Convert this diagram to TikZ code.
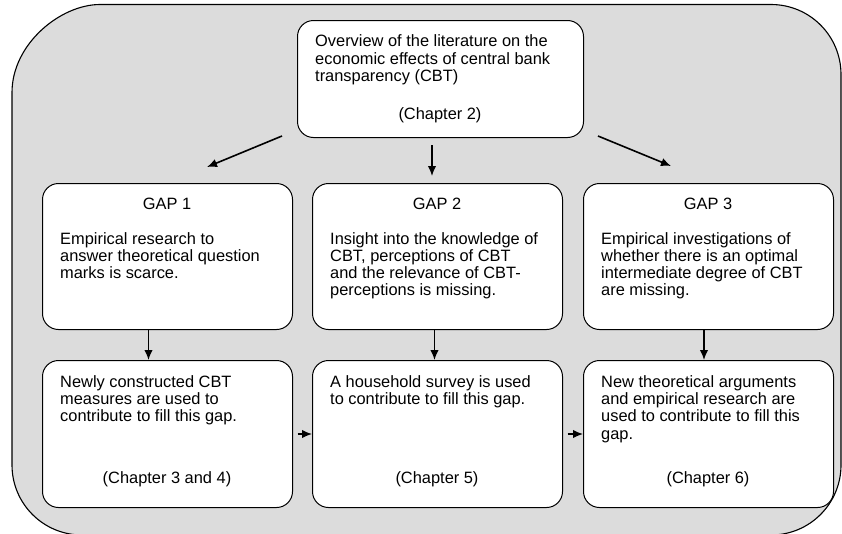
\documentclass[tikz,border=0pt]{standalone}
\usepackage{fontspec}
\setmainfont{Liberation Sans}
\usetikzlibrary{arrows.meta}
\definecolor{bgray}{RGB}{220,220,220}
\begin{document}
\begin{tikzpicture}[x=1pt,y=-1pt,
  box/.style={draw=black, line width=1pt, fill=white, rounded corners=16pt, inner sep=0pt, anchor=north west},
  txt/.style={inner sep=0pt, anchor=base west, font=\fontsize{16.4}{17.3}\selectfont},
  ctxt/.style={inner sep=0pt, anchor=base, font=\fontsize{16.4}{17.3}\selectfont},
  arr/.style={line width=1.6pt, -{Latex[length=10pt,width=8.5pt]}},
]
\useasboundingbox (0,0) rectangle (842,533);
% outer rounded panel
\draw[line width=1.1pt, fill=bgray]
  (100,4.5) -- (771,4.5) .. controls (809.7,4.5) and (841,35.8) .. (841,74.5)
  -- (841,465) .. controls (841,503.7) and (809.7,535) .. (771,535)
  -- (82,535) .. controls (43.3,535) and (12,503.7) .. (12,465)
  -- (12,92.5) .. controls (12,43.9) and (60.6,4.5) .. (100,4.5) -- cycle;

% boxes
\node[box, minimum width=286pt, minimum height=117pt] (top) at (297,20) {};
\node[box, minimum width=250pt, minimum height=146pt] (g1) at (42,183) {};
\node[box, minimum width=250pt, minimum height=146pt] (g2) at (312,183) {};
\node[box, minimum width=250pt, minimum height=146pt] (g3) at (583,183) {};
\node[box, minimum width=250pt, minimum height=147pt] (b1) at (42,360) {};
\node[box, minimum width=250pt, minimum height=147pt] (b2) at (312,360) {};
\node[box, minimum width=250pt, minimum height=147pt] (b3) at (583,360) {};

% top text
\node[txt] (toptxt) at (315,46.7) {\begin{tabular}[t]{@{}l@{}}Overview of the literature on the\\ economic effects of central bank\\ transparency (CBT)\end{tabular}};
\node[ctxt] (topch) at (440,119.3) {(Chapter 2)};

% gap boxes text
\node[ctxt] (g1h) at (167,209) {GAP 1};
\node[ctxt] (g2h) at (437,209) {GAP 2};
\node[ctxt] (g3h) at (708,209) {GAP 3};
\node[txt] (g1t) at (60,244) {\begin{tabular}[t]{@{}l@{}}Empirical research to\\ answer theoretical question\\ marks is scarce.\end{tabular}};
\node[txt] (g2t) at (330,244) {\begin{tabular}[t]{@{}l@{}}Insight into the knowledge of\\ CBT, perceptions of CBT\\ and the relevance of CBT-\\ perceptions is missing.\end{tabular}};
\node[txt] (g3t) at (601,244) {\begin{tabular}[t]{@{}l@{}}Empirical investigations of\\ whether there is an optimal\\ intermediate degree of CBT\\ are missing.\end{tabular}};

% bottom boxes text
\node[txt] (b1t) at (60,387.3) {\begin{tabular}[t]{@{}l@{}}Newly constructed CBT\\ measures are used to\\ contribute to fill this gap.\end{tabular}};
\node[txt] (b2t) at (330,387.3) {\begin{tabular}[t]{@{}l@{}}A household survey is used\\ to contribute to fill this gap.\end{tabular}};
\node[txt] (b3t) at (601,387.3) {\begin{tabular}[t]{@{}l@{}}New theoretical arguments\\ and empirical research are\\ used to contribute to fill this\\ gap.\end{tabular}};
\node[ctxt] (b1c) at (167,483) {(Chapter 3 and 4)};
\node[ctxt] (b2c) at (437,483) {(Chapter 5)};
\node[ctxt] (b3c) at (708,483) {(Chapter 6)};

% arrows from top box
\coordinate (a1s) at (282,136);
\coordinate (a1e) at (207,167);
\coordinate (a2s) at (432,145);
\coordinate (a2e) at (432,176);
\coordinate (a3s) at (598,136);
\coordinate (a3e) at (671,166);
\draw[arr] (a1s) -- (a1e);
\draw[arr] (a2s) -- (a2e);
\draw[arr] (a3s) -- (a3e);

% down arrows
\draw[arr] ([xshift=-19pt]g1.south) -- ([xshift=-19pt]b1.north);
\draw[arr] ([xshift=-3pt]g2.south) -- ([xshift=-3pt]b2.north);
\draw[arr] ([xshift=-4.5pt]g3.south) -- ([xshift=-4.5pt]b3.north);

% side arrows
\draw[arr, line width=1.4pt] ([xshift=4.7pt]b1.east) -- (b2.west);
\draw[arr, line width=1.4pt] ([xshift=4.7pt]b2.east) -- (b3.west);
\end{tikzpicture}
\end{document}
